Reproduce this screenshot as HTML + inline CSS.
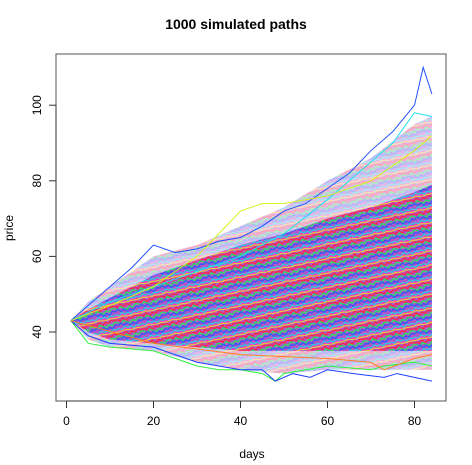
<!DOCTYPE html>
<html><head><meta charset="utf-8"><style>
html,body{margin:0;padding:0;background:#fff}
svg{display:block;font-family:"Liberation Sans",Arial,sans-serif}
</style></head><body>
<svg id="chart" width="472" height="465" viewBox="0 0 472 465">
<defs>
<pattern id="mix" width="24" height="14" patternUnits="userSpaceOnUse" patternTransform="rotate(-12)">
<rect width="24" height="14" fill="#b050c8"/>
<path d="M0 1 L3 3 L6 0 L9 4 L12 1 L15 3 L18 0 L21 2 L24 1" stroke="#ff2040" stroke-width="1.4" fill="none"/>
<path d="M0 4 L3 6 L6 3 L9 5 L12 7 L15 4 L18 6 L21 3 L24 4" stroke="#20e060" stroke-width="1.4" fill="none"/>
<path d="M0 7 L3 5 L6 8 L9 6 L12 9 L15 7 L18 9 L21 6 L24 7" stroke="#3050ff" stroke-width="1.4" fill="none"/>
<path d="M0 10 L3 12 L6 9 L9 11 L12 10 L15 12 L18 10 L21 11 L24 10" stroke="#20d0e0" stroke-width="1.3" fill="none"/>
<path d="M0 12 L3 13 L6 11 L9 13 L12 12 L15 14 L18 12 L21 13 L24 12" stroke="#ff30c0" stroke-width="1.2" fill="none"/>
<path d="M0 13.5 L6 12.5 L12 13.8 L18 13 L24 13.5" stroke="#e8e020" stroke-width="1" fill="none"/>
</pattern>
</defs>
<text x="236" y="29" text-anchor="middle" font-size="14" font-weight="bold">1000 simulated paths</text>
<text x="252" y="458" text-anchor="middle" font-size="12">days</text>
<text transform="translate(13,228) rotate(-90)" text-anchor="middle" font-size="12">price</text>
<g id="plot"></g>
<rect x="56" y="54" width="390" height="347" fill="none" stroke="#555" stroke-width="1"/>
<g id="axes"></g>
</svg>
<script>
const bandDays = [1, 5, 10, 20, 30, 40, 50, 60, 70, 80, 84];
const outerUpper = [43, 48, 52, 60, 63, 68, 73, 80, 86, 95, 97];
const coreUpper = [43, 46, 49, 55, 59, 63, 66, 70, 73, 77, 79];
const coreLower = [43, 40, 38, 37, 36, 35, 35, 35, 35, 35, 35];
const outerLower = [43, 38, 36, 35, 32, 30, 29, 30, 30, 30, 30];
const pathBlueHighDays = [1, 5, 10, 15, 20, 25, 30, 35, 40, 45, 50, 55, 60, 65, 70, 75, 80, 82, 84];
const pathBlueHigh = [43, 47, 52, 57, 63, 61, 62, 64, 65, 68, 72, 74, 78, 82, 88, 93, 100, 110, 103];
const pathCyanDays = [1, 10, 20, 30, 40, 50, 60, 65, 70, 75, 80, 84];
const pathCyan = [43, 48, 52, 56, 60, 66, 75, 80, 85, 90, 98, 97];
const pathYellowDays = [1, 10, 20, 25, 30, 35, 40, 45, 50, 55, 60, 70, 80, 84];
const pathYellow = [43, 47, 52, 56, 60, 66, 72, 74, 74, 75, 76, 80, 88, 92];
const pathGreenLowDays = [1, 5, 10, 20, 30, 35, 40, 45, 48, 50, 55, 60, 70, 73, 80, 84];
const pathGreenLow = [43, 37, 36, 35, 31, 30, 30, 29, 27, 29, 30, 31, 30, 31, 32, 31];
const pathBlueLowDays = [1, 5, 10, 20, 30, 35, 40, 45, 48, 52, 56, 60, 66, 73, 76, 80, 84];
const pathBlueLow = [43, 39, 37, 36, 32, 31, 30, 30, 27, 29, 28, 30, 29, 28, 29, 28, 27];
const pathOrangeDays = [1, 20, 40, 60, 70, 73, 80, 84];
const pathOrange = [43, 37, 34, 33, 32, 30, 33, 34];
const xTicks = [0, 20, 40, 60, 80];
const yTicks = [40, 60, 80, 100];

const x = d => 66.5 + d * 4.35;
const y = v => 332 - (v - 40) * 3.78;
const NS = "http://www.w3.org/2000/svg";
const plot = document.getElementById("plot");
const axes = document.getElementById("axes");
function mk(tag, attrs, parent) {
  const e = document.createElementNS(NS, tag);
  for (const k in attrs) e.setAttribute(k, attrs[k]);
  parent.appendChild(e);
  return e;
}
function bandPath(up, lo) {
  let d = "";
  bandDays.forEach((dd, i) => { d += (i ? "L" : "M") + x(dd) + " " + y(up[i]) + " "; });
  for (let i = bandDays.length - 1; i >= 0; i--) d += "L" + x(bandDays[i]) + " " + y(lo[i]) + " ";
  return d + "Z";
}
const ob = mk("path", {d: bandPath(outerUpper, outerLower), fill: "url(#mix)", opacity: "0.4"}, plot);


const cb = mk("path", {d: bandPath(coreUpper, coreLower), fill: "url(#mix)", opacity: "0.95"}, plot);


function line(days, vals, color, name) {
  const pts = days.map((d, i) => x(d) + "," + y(vals[i])).join(" ");
  const p = mk("polyline", {points: pts, fill: "none", stroke: color, "stroke-width": "1"}, plot);
  
  
}
line(pathBlueHighDays, pathBlueHigh, "#2050ff", "path-blue-high");
line(pathCyanDays, pathCyan, "#20e0f0", "path-cyan-high");
line(pathYellowDays, pathYellow, "#d8f020", "path-yellow-high");
line(pathGreenLowDays, pathGreenLow, "#30f040", "path-green-low");
line(pathBlueLowDays, pathBlueLow, "#2040ff", "path-blue-low");
line(pathOrangeDays, pathOrange, "#ff8020", "path-orange-low");

mk("line", {x1: x(0), x2: x(80), y1: 401, y2: 401, stroke: "#333"}, axes);
xTicks.forEach(t => {
  mk("line", {x1: x(t), x2: x(t), y1: 401, y2: 408, stroke: "#333"}, axes);
  const tx = mk("text", {x: x(t), y: 425, "text-anchor": "middle", "font-size": "12"}, axes);
  tx.textContent = t;
  
  
});
mk("line", {x1: 56, x2: 56, y1: y(40), y2: y(100), stroke: "#333"}, axes);
yTicks.forEach(t => {
  mk("line", {x1: 49, x2: 56, y1: y(t), y2: y(t), stroke: "#333"}, axes);
  const tx = mk("text", {transform: "translate(41," + y(t) + ") rotate(-90)", "text-anchor": "middle", "font-size": "12"}, axes);
  tx.textContent = t;
  
  
});
</script>
</body></html>
